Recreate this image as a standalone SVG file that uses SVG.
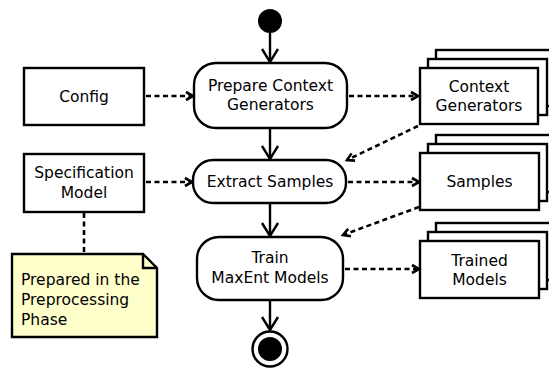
<svg xmlns="http://www.w3.org/2000/svg" width="549" height="370" viewBox="0 0 549 370">
<style>
text{font-family:"DejaVu Sans","Liberation Sans",sans-serif;font-size:15.5px;fill:#000;text-anchor:middle}
.box{fill:#fff;stroke:#000;stroke-width:2.4}
.act{fill:#fff;stroke:#000;stroke-width:2.4}
.flow{fill:none;stroke:#000;stroke-width:2.4}
.dash{fill:none;stroke:#000;stroke-width:2.6;stroke-dasharray:5,3.5}
.note{fill:#ffffcc;stroke:#000;stroke-width:2.4}
.nt{text-anchor:start}
</style>
<defs>
<marker id="ah" markerUnits="userSpaceOnUse" markerWidth="20" markerHeight="20" refX="15" refY="10" orient="auto">
<path d="M2,2 L15,10 L2,18" fill="none" stroke="#000" stroke-width="2.4"/>
</marker>
<marker id="ad" markerUnits="userSpaceOnUse" markerWidth="12" markerHeight="12" refX="9" refY="6" orient="auto">
<path d="M2,2 L9,6 L2,10" fill="none" stroke="#000" stroke-width="2.6"/>
</marker>
</defs>

<g id="start"><circle cx="270" cy="21" r="12" fill="#000"/></g>

<g id="prepare"><rect class="act" x="194" y="63" width="153" height="65" rx="22"/><text x="270.5" y="91">Prepare Context</text><text x="270.5" y="110">Generators</text></g>
<g id="extract"><rect class="act" x="193" y="160" width="153" height="43" rx="20"/><text x="270" y="187">Extract Samples</text></g>
<g id="train"><rect class="act" x="197" y="237" width="146" height="63" rx="22"/><text x="270" y="263">Train</text><text x="270" y="283">MaxEnt Models</text></g>
<g id="end"><circle cx="270" cy="349" r="17.5" fill="#fff" stroke="#000" stroke-width="2.4"/><circle cx="270" cy="349" r="12" fill="#000"/></g>

<g id="config"><rect class="box" x="24" y="68" width="120" height="57"/><text x="84" y="102">Config</text></g>
<g id="spec"><rect class="box" x="24" y="154" width="120" height="58"/><text x="84" y="178">Specification</text><text x="84" y="197.5">Model</text></g>
<g id="note"><path class="note" d="M12,254 H143 L157,268 V337 H12 Z"/><path d="M143,254 V268 H157" fill="none" stroke="#000" stroke-width="2.4"/><text class="nt" x="21" y="285">Prepared in the</text><text class="nt" x="21" y="305">Preprocessing</text><text class="nt" x="21" y="325">Phase</text></g>

<g id="contextgen"><rect class="box" x="436" y="50" width="119" height="56"/><rect class="box" x="428" y="59" width="119" height="56"/><rect class="box" x="420" y="68" width="118" height="56"/><text x="479" y="91.5">Context</text><text x="479" y="111">Generators</text></g>
<g id="samples"><rect class="box" x="436" y="135" width="119" height="57"/><rect class="box" x="428" y="144" width="119" height="57"/><rect class="box" x="420" y="153" width="119" height="57"/><text x="479.5" y="187">Samples</text></g>
<g id="trained"><rect class="box" x="436" y="223" width="119" height="57"/><rect class="box" x="428" y="232" width="119" height="57"/><rect class="box" x="420" y="241" width="119" height="57"/><text x="479.5" y="265.5">Trained</text><text x="479.5" y="284.5">Models</text></g>

<g id="connectors">
<line class="flow" x1="270" y1="33" x2="270" y2="62" marker-end="url(#ah)"/>
<line class="flow" x1="270" y1="128" x2="270" y2="159" marker-end="url(#ah)"/>
<line class="flow" x1="270" y1="203" x2="270" y2="236" marker-end="url(#ah)"/>
<line class="flow" x1="270" y1="300" x2="270" y2="330" marker-end="url(#ah)"/>
<line class="dash" x1="146" y1="96" x2="193" y2="96" marker-end="url(#ad)"/>
<line class="dash" x1="349" y1="96" x2="418" y2="96" marker-end="url(#ad)"/>
<line class="dash" x1="418" y1="126" x2="347" y2="160" marker-end="url(#ad)"/>
<line class="dash" x1="146" y1="182" x2="192" y2="182" marker-end="url(#ad)"/>
<line class="dash" x1="348" y1="182" x2="419" y2="182" marker-end="url(#ad)"/>
<line class="dash" x1="419" y1="207" x2="343" y2="235" marker-end="url(#ad)"/>
<line class="dash" x1="345" y1="269" x2="419" y2="269" marker-end="url(#ad)"/>
<line class="dash" x1="84" y1="213" x2="84" y2="254"/>
</g>
</svg>
